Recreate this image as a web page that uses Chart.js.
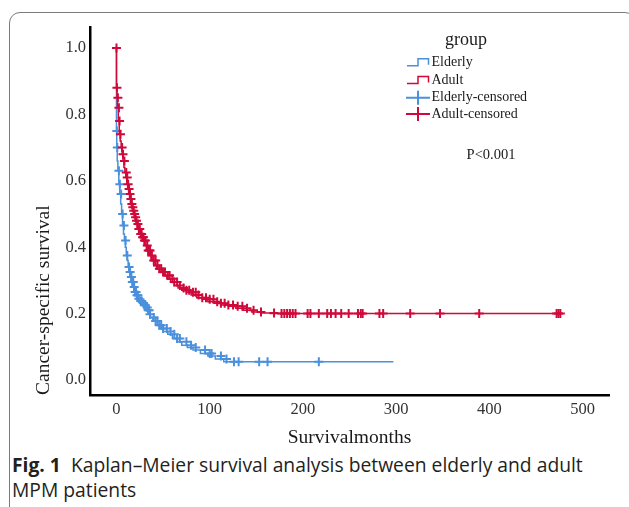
<!DOCTYPE html>
<html>
<head>
<meta charset="utf-8">
<script src="https://cdn.jsdelivr.net/npm/chart.js@4/dist/chart.umd.min.js"></script>
<style>
  html, body { margin: 0; padding: 0; background: #fff; }
  #wrap { position: relative; width: 629px; height: 507px; overflow: hidden; background: #fff; }
  #frame { position: absolute; left: 9px; top: 12px; width: 627px; height: 560px;
           border: 1.5px solid #7a7a7a; border-radius: 11px; box-sizing: border-box; }
  #c { position: absolute; left: 0; top: 0; }
  #caption { position: absolute; left: 12px; top: 452px; width: 617px; white-space: nowrap;
             font-family: "Open Sans", "Noto Sans", sans-serif; font-size: 19.3px;
             line-height: 25px; color: #231f20; letter-spacing: 0; }
  #caption b { font-weight: 700; }
</style>
</head>
<body>
<div id="wrap">
  <div id="frame"></div>
  <canvas id="c" width="629" height="450"></canvas>
  <div id="caption"><b>Fig. 1</b>&nbsp; Kaplan–Meier survival analysis between elderly and adult<br>MPM patients</div>
</div>
<script>
// ---- data ----
const xTickValues = [0, 100, 200, 300, 400, 500];
const yTickValues = [0.0, 0.2, 0.4, 0.6, 0.8, 1.0];

// Adult: survival step curve (time in months, cancer-specific survival)
const adultTimes = [0, 0.5, 1, 2, 3, 4, 5, 6, 7, 8, 9, 10, 11, 12, 13, 14, 15, 16, 17, 18, 19, 20, 21, 22, 24, 26, 28, 30, 32, 34, 37, 40, 43, 46, 50, 54, 58, 62, 66, 70, 75, 80, 86, 92, 98, 105, 112, 120, 128, 136, 145, 155, 165, 175, 477];
const adultSurv  = [1.0, 0.88, 0.85, 0.82, 0.78, 0.74, 0.72, 0.70, 0.68, 0.66, 0.64, 0.625, 0.61, 0.59, 0.575, 0.56, 0.545, 0.53, 0.52, 0.51, 0.50, 0.49, 0.48, 0.47, 0.455, 0.44, 0.43, 0.42, 0.405, 0.39, 0.375, 0.36, 0.345, 0.335, 0.325, 0.315, 0.305, 0.295, 0.285, 0.277, 0.27, 0.264, 0.256, 0.248, 0.243, 0.236, 0.231, 0.226, 0.222, 0.216, 0.21, 0.205, 0.202, 0.2, 0.2];
const adultCensored = [0, 0.5, 1.5, 2.6, 3.3, 4.3, 6, 7, 8.5, 10.5, 11.5, 12.5, 13.5, 14.5, 15.5, 16.5, 17.5, 18.5, 19.5, 20.5, 21.5, 23, 24, 25, 26, 27, 28, 29, 30, 31, 33, 34, 35, 36, 38, 40, 42, 44, 46, 48, 50, 52, 55, 57, 60, 62, 65, 68, 72, 75, 78, 82, 85, 88, 92, 96, 100, 104, 108, 112, 116, 120, 125, 130, 135, 140, 147, 155, 169, 177, 180, 183, 186, 189, 192, 205, 208, 217, 226, 230, 235, 241, 249, 259, 262, 264, 282, 286, 315, 347, 389, 472, 474, 476];

// Elderly
const elderlyTimes = [0, 0.3, 0.8, 1.5, 2.5, 3.5, 4.5, 5.5, 6.5, 7.5, 8.5, 9.5, 10.5, 11.5, 12.5, 13.5, 14.5, 15.5, 17, 18.5, 20, 22, 24, 26, 28, 30, 32, 34, 36, 39, 42, 46, 50, 55, 60, 65, 70, 76, 82, 90, 98, 106, 115, 126, 297];
const elderlySurv  = [1.0, 0.75, 0.70, 0.66, 0.63, 0.59, 0.56, 0.53, 0.50, 0.465, 0.44, 0.42, 0.40, 0.375, 0.36, 0.34, 0.325, 0.31, 0.295, 0.28, 0.265, 0.255, 0.245, 0.238, 0.232, 0.225, 0.218, 0.21, 0.198, 0.188, 0.178, 0.165, 0.155, 0.146, 0.138, 0.125, 0.115, 0.105, 0.098, 0.09, 0.08, 0.072, 0.063, 0.055, 0.055];
const elderlyCensored = [0.4, 0.9, 2.6, 3.6, 5, 6.6, 8, 9.8, 11.6, 13.5, 14.6, 16, 17, 18, 19, 20, 21, 22, 23, 24, 26, 27, 29, 30, 31, 33, 34, 35, 36, 40, 42, 44, 46, 48, 50, 54, 58, 62, 65, 68, 75, 80, 85, 95, 100, 102, 112, 118, 126, 131, 153, 162, 217];

const pText = "P<0.001";
const legendTitle = "group";
const legendLabels = ["Elderly", "Adult", "Elderly-censored", "Adult-censored"];

// ---- colours ----
const BLUE = "#4a90dc";
const RED = "#cf0a3a";

function curve(times, surv) { return times.map((t, i) => ({ x: t, y: surv[i] })); }
// KM value at a censoring time (value of the step curve at that time)
function onCurve(times, surv, cens) {
  return cens.map(t => {
    let s = surv[0];
    for (let i = 0; i < times.length; i++) { if (times[i] <= t) s = surv[i]; else break; }
    return { x: t, y: s };
  });
}

const legendPlugin = {
  id: 'kmLegend',
  afterDraw(chart) {
    const ctx = chart.ctx;
    ctx.save();
    ctx.fillStyle = '#1a1a1a';
    ctx.textBaseline = 'middle';
    ctx.font = '18px "Liberation Serif", "Times New Roman", serif';
    ctx.textAlign = 'left';
    ctx.fillText(legendTitle, 445, 40);
    const rows = [62.7, 80.5, 97.7, 114];
    const cols = [BLUE, RED, BLUE, RED];
    ctx.font = '14px "Liberation Serif", "Times New Roman", serif';
    rows.forEach((y, i) => {
      ctx.strokeStyle = cols[i];
      if (i < 2) {
        ctx.lineWidth = 1.5;
        ctx.beginPath();
        ctx.moveTo(407, y + 3); ctx.lineTo(418, y + 3); ctx.lineTo(418, y - 4);
        ctx.lineTo(428.5, y - 4); ctx.lineTo(428.5, y + 2);
        ctx.stroke();
      } else {
        ctx.lineWidth = 2;
        ctx.beginPath();
        ctx.moveTo(406, y); ctx.lineTo(430, y);
        ctx.moveTo(418, y - 7); ctx.lineTo(418, y + 7);
        ctx.stroke();
      }
      ctx.fillStyle = '#1a1a1a';
      ctx.fillText(legendLabels[i], 431.5, y);
    });
    ctx.font = '14.5px "Liberation Serif", "Times New Roman", serif';
    ctx.textAlign = 'center';
    ctx.fillText(pText, 491, 155);
    ctx.restore();
  }
};

const serif = '"Liberation Serif", "Times New Roman", serif';

new Chart(document.getElementById('c'), {
  type: 'line',
  data: {
    datasets: [
      { label: 'Adult-censored', data: onCurve(adultTimes, adultSurv, adultCensored),
        showLine: false, pointStyle: 'cross', pointRadius: 4.5, pointBorderWidth: 2,
        borderColor: RED, backgroundColor: RED, pointHoverRadius: 4.5 },
      { label: 'Adult', data: curve(adultTimes, adultSurv), stepped: 'after',
        borderColor: RED, borderWidth: 1.5, pointRadius: 0, fill: false },
      { label: 'Elderly-censored', data: onCurve(elderlyTimes, elderlySurv, elderlyCensored),
        showLine: false, pointStyle: 'cross', pointRadius: 4.5, pointBorderWidth: 2,
        borderColor: BLUE, backgroundColor: BLUE, pointHoverRadius: 4.5 },
      { label: 'Elderly', data: curve(elderlyTimes, elderlySurv), stepped: 'after',
        borderColor: BLUE, borderWidth: 1.5, pointRadius: 0, fill: false }
    ]
  },
  options: {
    responsive: false,
    animation: false,
    devicePixelRatio: 1,
    layout: { padding: { left: 0, top: 27, right: 20, bottom: 0 } },
    plugins: { legend: { display: false }, tooltip: { enabled: false } },
    scales: {
      x: {
        type: 'linear', min: -28.4, max: 528.2,
        grid: { display: false, drawTicks: false },
        border: { display: true, color: '#000', width: 2.5 },
        afterBuildTicks: s => { s.ticks = xTickValues.map(v => ({ value: v })); },
        afterFit: s => { s.height = 55; },
        ticks: { color: '#333', padding: 4.5, maxRotation: 0, autoSkip: false,
                 font: { family: serif, size: 16.5 }, callback: v => String(v) },
        title: { display: true, text: 'Survivalmonths', color: '#1a1a1a',
                 font: { family: serif, size: 19.5 }, padding: { top: 0, bottom: 0 } }
      },
      y: {
        type: 'linear', min: -0.0452, max: 1.0633,
        grid: { display: false, drawTicks: false },
        border: { display: true, color: '#000', width: 2.5 },
        afterBuildTicks: s => { s.ticks = yTickValues.map(v => ({ value: v })); },
        afterFit: s => { s.width = 90; },
        ticks: { color: '#333', padding: 4, autoSkip: false,
                 font: { family: serif, size: 16.5 }, callback: v => Number(v).toFixed(1) },
        title: { display: true, text: 'Cancer-specific survival', color: '#1a1a1a', align: 'start',
                 font: { family: serif, size: 19.5 }, padding: { top: 32, bottom: 0 } }
      }
    }
  },
  plugins: [legendPlugin]
});
</script>
</body>
</html>
